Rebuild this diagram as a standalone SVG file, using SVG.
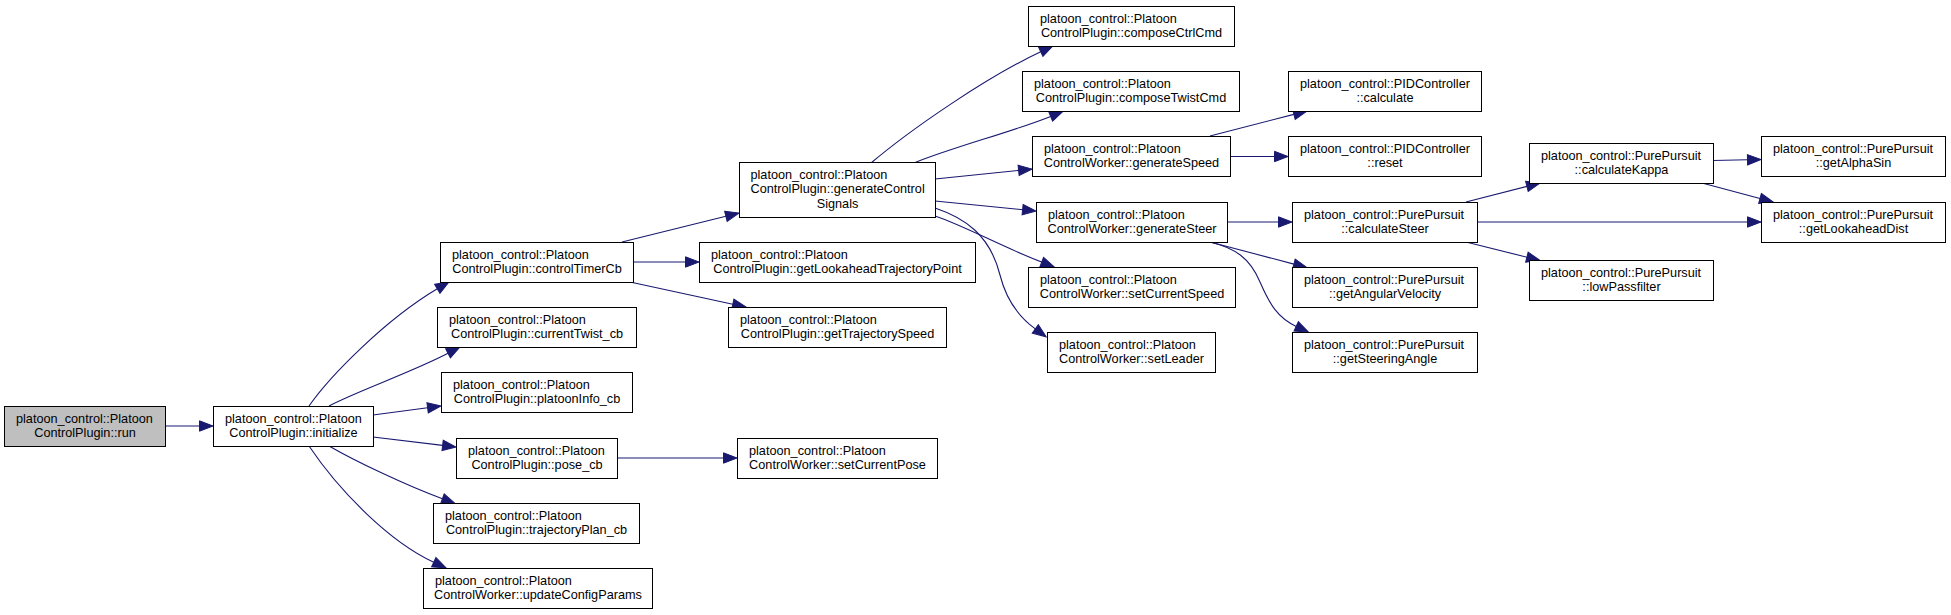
<svg xmlns="http://www.w3.org/2000/svg" width="1951" height="615" viewBox="0 0 1951 615">
<style>
rect{fill:#fff;stroke:#000;stroke-width:1}
#n_run rect{fill:#bfbfbf}
text{font-family:"Liberation Sans",Arial,Helvetica,sans-serif;font-size:12.7px;fill:#000}
.m{text-anchor:middle}
.e path{fill:none;stroke:#191970;stroke-width:1.1;marker-end:url(#ah)}
</style>
<defs>
<marker id="ah" markerUnits="userSpaceOnUse" markerWidth="14" markerHeight="11" viewBox="0 0 14 11" refX="0" refY="5.5" orient="auto" overflow="visible">
<path d="M0,0.3 L13.5,5.5 L0,10.7 z" fill="#191970" stroke="#191970" stroke-width="1"/>
</marker>
</defs>
<rect x="0" y="0" width="1951" height="615" style="fill:#fff;stroke:none"/>
<g class="e">
<path d="M165,426 L199.5,426"/>
<path d="M309,406 C330,376 385,320 437.3,288.8"/>
<path d="M329,406 C355,392 412.6,371.9 448,353.3"/>
<path d="M373,415 L427.6,407.8"/>
<path d="M373,437 L442.6,445.4"/>
<path d="M329,446 C355,461 405,485 442.4,498.8"/>
<path d="M309,446 C340,492 390,542 433.8,562.2"/>
<path d="M622,242 L725.9,216.3"/>
<path d="M633,262 L685.5,262"/>
<path d="M630,282 L732.8,304.2"/>
<path d="M617,458 L723.5,458"/>
<path d="M871,163 C910,130 985,78 1040.7,51.7"/>
<path d="M914,163 C950,148 1015,131 1050.6,116.4"/>
<path d="M935,179 L1018.6,170.4"/>
<path d="M935,201 L1022.6,209.7"/>
<path d="M935,216 C965,226 1000,246 1041.7,262.1"/>
<path d="M935,208 C965,218 990,235 1000,275 C1004,291 1012,312 1035.3,328.9"/>
<path d="M1210,136 L1293.9,114.4"/>
<path d="M1230,156.5 L1274.5,156.5"/>
<path d="M1227,222 L1278.5,222"/>
<path d="M1210,242 L1293.9,264.1"/>
<path d="M1210,242 C1235,248 1250,258 1260,282 C1270,305 1278,318 1296.2,326.4"/>
<path d="M1466,202 L1526.9,186.4"/>
<path d="M1477,222 L1747.5,222"/>
<path d="M1466,242 L1526.9,257.2"/>
<path d="M1713,160.5 L1747.5,159.8"/>
<path d="M1702,183 L1760,198.5"/>
</g>
<g id="n_run"><rect x="4.5" y="406.5" width="161" height="40"/><text x="16" y="422.5">platoon_control::Platoon</text><text class="m" x="85" y="437">ControlPlugin::run</text></g>
<g id="n_initialize"><rect x="213.5" y="406.5" width="160" height="40"/><text x="225" y="422.5">platoon_control::Platoon</text><text class="m" x="293.5" y="437">ControlPlugin::initialize</text></g>
<g id="n_controlTimerCb"><rect x="440.5" y="242.5" width="193" height="40"/><text x="452" y="258.5">platoon_control::Platoon</text><text class="m" x="537" y="273">ControlPlugin::controlTimerCb</text></g>
<g id="n_currentTwist_cb"><rect x="437.5" y="307.5" width="199" height="40"/><text x="449" y="323.5">platoon_control::Platoon</text><text class="m" x="537" y="338">ControlPlugin::currentTwist_cb</text></g>
<g id="n_platoonInfo_cb"><rect x="441.5" y="372.5" width="191" height="40"/><text x="453" y="388.5">platoon_control::Platoon</text><text class="m" x="537" y="403">ControlPlugin::platoonInfo_cb</text></g>
<g id="n_pose_cb"><rect x="456.5" y="438.5" width="161" height="40"/><text x="468" y="454.5">platoon_control::Platoon</text><text class="m" x="537" y="469">ControlPlugin::pose_cb</text></g>
<g id="n_trajectoryPlan_cb"><rect x="433.5" y="503.5" width="206" height="40"/><text x="445" y="519.5">platoon_control::Platoon</text><text class="m" x="536.5" y="534">ControlPlugin::trajectoryPlan_cb</text></g>
<g id="n_updateConfigParams"><rect x="423.5" y="568.5" width="229" height="40"/><text x="435" y="584.5">platoon_control::Platoon</text><text class="m" x="538" y="599">ControlWorker::updateConfigParams</text></g>
<g id="n_generateControlSignals"><rect x="739.5" y="162.5" width="196" height="55"/><text x="750.5" y="178.5">platoon_control::Platoon</text><text x="750.5" y="193">ControlPlugin::generateControl</text><text class="m" x="837.5" y="207.5">Signals</text></g>
<g id="n_getLookaheadTrajectoryPoint"><rect x="699.5" y="242.5" width="276" height="40"/><text x="711" y="258.5">platoon_control::Platoon</text><text class="m" x="837.5" y="273">ControlPlugin::getLookaheadTrajectoryPoint</text></g>
<g id="n_getTrajectorySpeed"><rect x="728.5" y="307.5" width="218" height="40"/><text x="740" y="323.5">platoon_control::Platoon</text><text class="m" x="837.5" y="338">ControlPlugin::getTrajectorySpeed</text></g>
<g id="n_setCurrentPose"><rect x="737.5" y="438.5" width="200" height="40"/><text x="749" y="454.5">platoon_control::Platoon</text><text class="m" x="837.5" y="469">ControlWorker::setCurrentPose</text></g>
<g id="n_composeCtrlCmd"><rect x="1028.5" y="6.5" width="206" height="40"/><text x="1040" y="22.5">platoon_control::Platoon</text><text class="m" x="1131.5" y="37">ControlPlugin::composeCtrlCmd</text></g>
<g id="n_composeTwistCmd"><rect x="1022.5" y="71.5" width="217" height="40"/><text x="1034" y="87.5">platoon_control::Platoon</text><text class="m" x="1131" y="102">ControlPlugin::composeTwistCmd</text></g>
<g id="n_generateSpeed"><rect x="1032.5" y="136.5" width="198" height="40"/><text x="1044" y="152.5">platoon_control::Platoon</text><text class="m" x="1131.5" y="167">ControlWorker::generateSpeed</text></g>
<g id="n_generateSteer"><rect x="1036.5" y="202.5" width="191" height="40"/><text x="1048" y="218.5">platoon_control::Platoon</text><text class="m" x="1132" y="233">ControlWorker::generateSteer</text></g>
<g id="n_setCurrentSpeed"><rect x="1028.5" y="267.5" width="207" height="40"/><text x="1040" y="283.5">platoon_control::Platoon</text><text class="m" x="1132" y="298">ControlWorker::setCurrentSpeed</text></g>
<g id="n_setLeader"><rect x="1047.5" y="332.5" width="168" height="40"/><text x="1059" y="348.5">platoon_control::Platoon</text><text class="m" x="1131.5" y="363">ControlWorker::setLeader</text></g>
<g id="n_calculate"><rect x="1288.5" y="71.5" width="193" height="40"/><text x="1300" y="87.5">platoon_control::PIDController</text><text class="m" x="1385" y="102">::calculate</text></g>
<g id="n_reset"><rect x="1288.5" y="136.5" width="193" height="40"/><text x="1300" y="152.5">platoon_control::PIDController</text><text class="m" x="1385" y="167">::reset</text></g>
<g id="n_calculateSteer"><rect x="1292.5" y="202.5" width="185" height="40"/><text x="1304" y="218.5">platoon_control::PurePursuit</text><text class="m" x="1385" y="233">::calculateSteer</text></g>
<g id="n_getAngularVelocity"><rect x="1292.5" y="267.5" width="185" height="40"/><text x="1304" y="283.5">platoon_control::PurePursuit</text><text class="m" x="1385" y="298">::getAngularVelocity</text></g>
<g id="n_getSteeringAngle"><rect x="1292.5" y="332.5" width="185" height="40"/><text x="1304" y="348.5">platoon_control::PurePursuit</text><text class="m" x="1385" y="363">::getSteeringAngle</text></g>
<g id="n_calculateKappa"><rect x="1529.5" y="143.5" width="184" height="40"/><text x="1541" y="159.5">platoon_control::PurePursuit</text><text class="m" x="1621.5" y="174">::calculateKappa</text></g>
<g id="n_lowPassfilter"><rect x="1529.5" y="260.5" width="184" height="40"/><text x="1541" y="276.5">platoon_control::PurePursuit</text><text class="m" x="1621.5" y="291">::lowPassfilter</text></g>
<g id="n_getAlphaSin"><rect x="1761.5" y="136.5" width="184" height="40"/><text x="1773" y="152.5">platoon_control::PurePursuit</text><text class="m" x="1853.5" y="167">::getAlphaSin</text></g>
<g id="n_getLookaheadDist"><rect x="1761.5" y="202.5" width="184" height="40"/><text x="1773" y="218.5">platoon_control::PurePursuit</text><text class="m" x="1853.5" y="233">::getLookaheadDist</text></g>
</svg>
